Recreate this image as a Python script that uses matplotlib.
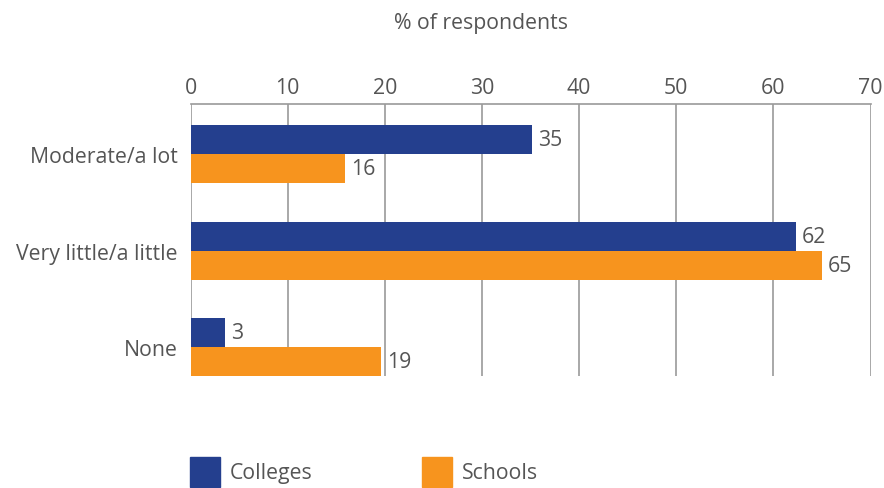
import matplotlib
matplotlib.use("Agg")
import matplotlib.pyplot as plt
from matplotlib.patches import Rectangle

plt.rcParams['font.family'] = ['Open Sans', 'DejaVu Sans']

categories = ["Moderate/a lot", "Very little/a little", "None"]
colleges = [35.2, 62.3, 3.6]
schools = [15.9, 65.0, 19.6]
colleges_labels = ["35", "62", "3"]
schools_labels = ["16", "65", "19"]
xticks = [0, 10, 20, 30, 40, 50, 60, 70]
series_names = ["Colleges", "Schools"]
axis_title = "% of respondents"

BLUE = "#243F8E"
ORANGE = "#F7941E"
TXT = "#555555"
GRID = "#9A9A9A"

W, H = 884, 489
fig = plt.figure(figsize=(W / 100, H / 100), dpi=100)
ax = fig.add_axes([190.5 / W, 1 - 377 / H, 680 / W, 272 / H])

bh = 0.30
ys = list(range(len(categories)))
ax.barh([y - bh / 2 for y in ys], colleges, height=bh, color=BLUE, zorder=3)
ax.barh([y + bh / 2 for y in ys], schools, height=bh, color=ORANGE, zorder=3)

fs = 15.3
for y, v, lab in zip(ys, colleges, colleges_labels):
    ax.text(v + 0.6, y - bh / 2, lab, va="center", ha="left", fontsize=fs, color=TXT)
for y, v, lab in zip(ys, schools, schools_labels):
    ax.text(v + 0.6, y + bh / 2, lab, va="center", ha="left", fontsize=fs, color=TXT)

ax.set_xlim(0, 70)
ax.set_ylim(2.3, -0.52)
ax.set_xticks(xticks)
ax.xaxis.tick_top()
ax.tick_params(axis="x", length=0, pad=4, labelsize=fs, labelcolor=TXT)
ax.set_yticks(ys)
ax.set_yticklabels(categories)
ax.tick_params(axis="y", length=0, pad=9, labelsize=fs, labelcolor=TXT)
ax.grid(axis="x", color=GRID, linewidth=1.2, zorder=0)
for s in ["left", "right", "bottom"]:
    ax.spines[s].set_visible(False)
ax.spines["top"].set_color(GRID)
ax.spines["top"].set_linewidth(1.2)

fig.text(481 / W, 1 - 23 / H, axis_title, ha="center", va="center", fontsize=fs, color=TXT)

# legend
for x0, col, name in [(190, BLUE, series_names[0]), (421.5, ORANGE, series_names[1])]:
    fig.patches.append(Rectangle((x0 / W, 1 - 488 / H), 30 / W, 30 / H,
                                 transform=fig.transFigure, color=col))
    fig.text((x0 + 40) / W, 1 - 474 / H, name, ha="left", va="center", fontsize=fs, color=TXT)

fig.savefig("out.png", dpi=100)
